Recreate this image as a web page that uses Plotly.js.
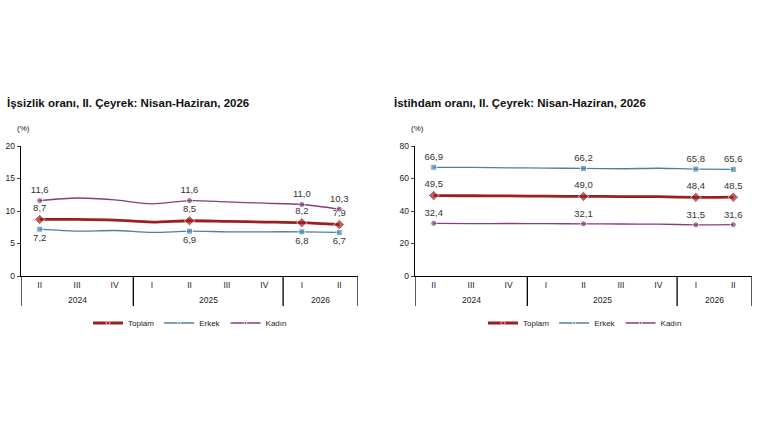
<!DOCTYPE html>
<html><head><meta charset="utf-8">
<script src="https://cdn.plot.ly/plotly-3.0.1.min.js"></script>
<style>html,body{margin:0;padding:0;background:#fff}#c{width:760px;height:430px}</style>
</head><body><div id="c"></div>
<script>
const years = ["2024","2024","2024","2025","2025","2025","2025","2026","2026"];
const quarters = ["II","III","IV","I","II","III","IV","I","II"];
const labeled = [true,false,false,false,true,false,false,true,true];

// İşsizlik oranı
const issizToplam = [8.7, 8.7, 8.6, 8.3, 8.5, 8.4, 8.3, 8.2, 7.9];
const issizErkek  = [7.2, 6.9, 7.0, 6.7, 6.9, 6.8, 6.8, 6.8, 6.7];
const issizKadin  = [11.6, 12.0, 11.7, 11.1, 11.6, 11.4, 11.2, 11.0, 10.3];

// İstihdam oranı
const istToplam = [49.5, 49.4, 49.3, 49.1, 49.0, 48.9, 48.8, 48.4, 48.5];
const istErkek  = [66.9, 66.8, 66.6, 66.4, 66.2, 66.0, 66.3, 65.8, 65.6];
const istKadin  = [32.4, 32.2, 32.3, 32.2, 32.1, 32.0, 31.9, 31.5, 31.6];

const seriesNames = ["Toplam","Erkek","Kadın"];
const colors = ["#9c1f1f","#4a80ab","#853c80"];
const symbols = ["diamond","square","circle"];
const FONT = 'Arial, Liberation Sans, sans-serif';

const xi = quarters.map((q,i)=>i);

function fmt(v){ return v.toFixed(1).replace('.', ','); }

function mk(vals, idx, ax, pos, leg){
  return {
    type:'scatter', mode:'lines+markers+text',
    x:xi, y:vals, name:seriesNames[idx],
    xaxis:'x'+ax, yaxis:'y'+ax, legend:leg,
    line:{color:colors[idx], width: idx===0?2.8:1.3, shape:'spline', smoothing:0.8},
    marker:{symbol:symbols[idx], color:colors[idx], size: labeled.map(l=>l?(idx===0?8:6):0)},
    text: vals.map((v,i)=>labeled[i]?fmt(v):''),
    textposition: pos, textfont:{family:FONT, size:9.5, color:'#333'},
    cliponaxis:false, hoverinfo:'none'
  };
}

const data = [
  mk(issizToplam,0,'','top center','legend'),
  mk(issizErkek,1,'','bottom center','legend'),
  mk(issizKadin,2,'','top center','legend'),
  mk(istToplam,0,'2','top center','legend2'),
  mk(istErkek,1,'2','top center','legend2'),
  mk(istKadin,2,'2','top center','legend2')
];

const tickfont = {family:FONT, size:8.5, color:'#222'};
function xax(domain, anchor){
  return {domain:domain, anchor:anchor, range:[-0.5, quarters.length-0.5], showline:true, linecolor:'#000', linewidth:1.3,
    showgrid:false, zeroline:false, ticks:'', tickvals:xi, ticktext:quarters, tickfont:tickfont, fixedrange:true};
}
function yax(domain, anchor, range, dtick){
  return {domain:domain, anchor:anchor, range:range, dtick:dtick, showline:true, linecolor:'#000', linewidth:1.3,
    showgrid:false, zeroline:false, ticks:'outside', ticklen:3, tickcolor:'#444', tickfont:tickfont, fixedrange:true};
}
const ydom = [1-276/430, 1-146/430];
const divBottom = 1-306/430;

// year groups -> dividers & labels
const groups = [];
years.forEach((y,i)=>{
  if(!groups.length || groups[groups.length-1].y!==y) groups.push({y:y, s:i, e:i});
  else groups[groups.length-1].e = i;
});
const shapes = [], annotations = [];
['x','x2'].forEach(ax=>{
  const edges = [-0.5].concat(groups.map(g=>g.e+0.5));
  edges.forEach(e=>shapes.push({type:'line', xref:ax, yref:'paper', x0:e, x1:e, y0:ydom[0], y1:divBottom,
    line:{color:'#000', width:1.3}}));
  groups.forEach(g=>annotations.push({text:g.y, xref:ax, yref:'paper', x:(g.s+g.e)/2, y:1-300/430,
    xanchor:'center', yanchor:'middle', showarrow:false, font:{family:FONT, size:8.5, color:'#222'}}));
});

annotations.push(
  {text:'<b>İşsizlik oranı, II. Çeyrek: Nisan-Haziran, 2026</b>', xref:'paper', yref:'paper', x:5/760, y:1-103/430,
    xanchor:'left', yanchor:'middle', showarrow:false, font:{family:FONT, size:11.5, color:'#111'}},
  {text:'<b>İstihdam oranı, II. Çeyrek: Nisan-Haziran, 2026</b>', xref:'paper', yref:'paper', x:392/760, y:1-103/430,
    xanchor:'left', yanchor:'middle', showarrow:false, font:{family:FONT, size:11.5, color:'#111'}},
  {text:'(%)', xref:'paper', yref:'paper', x:15/760, y:1-128/430, xanchor:'left', yanchor:'middle', showarrow:false,
    font:{family:FONT, size:8, color:'#222'}},
  {text:'(%)', xref:'paper', yref:'paper', x:409/760, y:1-128/430, xanchor:'left', yanchor:'middle', showarrow:false,
    font:{family:FONT, size:8, color:'#222'}}
);

const legFont = {family:FONT, size:8, color:'#222'};
const layout = {
  width:760, height:430, margin:{l:0,r:0,t:0,b:0}, paper_bgcolor:'#fff', plot_bgcolor:'#fff',
  xaxis: xax([21/760, 358/760], 'y'),
  yaxis: yax(ydom, 'x', [0,20], 5),
  xaxis2: xax([415/760, 752/760], 'y2'),
  yaxis2: yax(ydom, 'x2', [0,80], 20),
  legend:{orientation:'h', x:190/760, xanchor:'center', y:1-323/430, yanchor:'middle', font:legFont, bgcolor:'rgba(0,0,0,0)'},
  legend2:{orientation:'h', x:585/760, xanchor:'center', y:1-323/430, yanchor:'middle', font:legFont, bgcolor:'rgba(0,0,0,0)'},
  shapes:shapes, annotations:annotations
};
Plotly.newPlot('c', data, layout, {staticPlot:true});
</script></body></html>
